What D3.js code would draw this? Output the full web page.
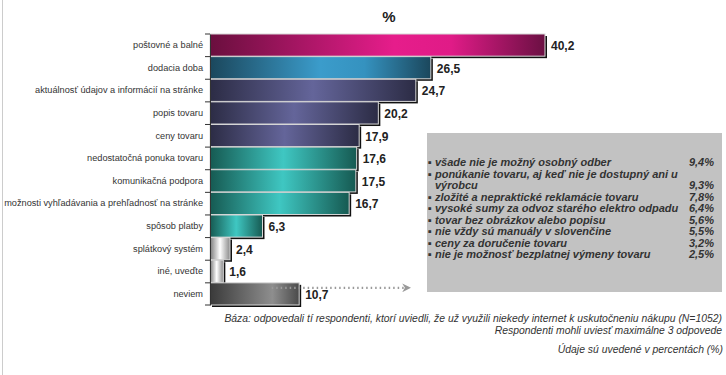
<!DOCTYPE html>
<html><head><meta charset="utf-8">
<script src="https://cdn.jsdelivr.net/npm/d3@7"></script>
<style>body{margin:0;background:#fff;}svg{display:block;font-family:"Liberation Sans",Arial,sans-serif;}</style>
</head><body><svg id="c" width="726" height="375"></svg>
<script>
const categories = ["poštovné a balné","dodacia doba","aktuálnosť údajov a informácií na stránke","popis tovaru","ceny tovaru","nedostatočná ponuka tovaru","komunikačná podpora","možnosti vyhľadávania a prehľadnosť na stránke","spôsob platby","splátkový systém","iné, uveďte","neviem"];
const values = [40.2,26.5,24.7,20.2,17.9,17.6,17.5,16.7,6.3,2.4,1.6,10.7];
const colorGroups = ["pink","blue","purple","purple","purple","teal","teal","teal","teal","light","light","dark"];
const otherItems = ["všade nie je možný osobný odber","ponúkanie tovaru, aj keď nie je dostupný ani u výrobcu","zložité a nepraktické reklamácie tovaru","vysoké sumy za odvoz starého elektro odpadu","tovar bez  obrázkov alebo popisu","nie vždy sú manuály v slovenčine","ceny za doručenie tovaru","nie je možnosť bezplatnej výmeny tovaru"];
const otherValues = ["9,4%","9,3%","7,8%","6,4%","5,6%","5,5%","3,2%","2,5%"];

const svg = d3.select("#c");
const gradStops = {
  pink:[["0%","#6a0f3e"],["55%","#e61d8b"],["72%","#e01b87"],["100%","#6b1043"]],
  blue:[["0%","#1b475c"],["50%","#3b9ccb"],["70%","#3592bf"],["100%","#1b475c"]],
  purple:[["0%","#2c2c45"],["50%","#64659a"],["100%","#2c2c45"]],
  teal:[["0%","#165a52"],["50%","#3fc7c2"],["100%","#165a52"]],
  light:[["0%","#7a7a7a"],["50%","#ffffff"],["100%","#8a8a8a"]],
  dark:[["0%","#3a3a3a"],["70%","#8e8e8e"],["100%","#4a4a4a"]]
};
const defs = svg.append("defs");
Object.entries(gradStops).forEach(([k,st])=>{
  const g = defs.append("linearGradient").attr("id","g-"+k).attr("x1","0").attr("x2","1").attr("y1","0").attr("y2","0");
  st.forEach(s=>g.append("stop").attr("offset",s[0]).attr("stop-color",s[1]));
});
const mk = defs.append("marker").attr("id","arr").attr("viewBox","0 0 10 10").attr("refX",2).attr("refY",5)
  .attr("markerWidth",4).attr("markerHeight",4).attr("orient","auto");
mk.append("path").attr("d","M0,0L10,5L0,10L3,5Z").attr("fill","#999");

svg.append("line").attr("x1",2.5).attr("x2",2.5).attr("y1",0).attr("y2",375).attr("stroke","#ccc");

const x = d3.scaleLinear().domain([0,40.2]).range([210,545]);
const y = d3.scaleBand().domain(categories).range([34,305]).paddingInner(0.02);

svg.append("text").attr("x",389).attr("y",22).attr("text-anchor","middle").attr("font-weight","bold").attr("font-size",15).attr("fill","#222").text("%");

// gray box
svg.append("rect").attr("x",427).attr("y",133).attr("width",295).attr("height",159).attr("fill","#c2c2c2");
const boxLines = [];
otherItems.forEach((t,i)=>{
  if(i===1){ boxLines.push({t:"▪ ponúkanie tovaru, aj keď nie je dostupný ani u",v:""}); boxLines.push({t:"výrobcu",v:otherValues[i],ind:true}); }
  else boxLines.push({t:"▪ "+t,v:otherValues[i]});
});
boxLines.forEach((d,i)=>{
  const yy = 166+i*11.5;
  svg.append("text").attr("x",d.ind?435:428).attr("y",yy).attr("font-size",11).attr("font-style","italic").attr("font-weight","bold").attr("fill","#333").text(d.t);
  if(d.v) svg.append("text").attr("x",714).attr("y",yy).attr("text-anchor","end").attr("font-size",11).attr("font-style","italic").attr("font-weight","bold").attr("fill","#333").text(d.v);
});

// bars
const g = svg.append("g");
categories.forEach((c,i)=>{
  const y0 = y(c), h = y.bandwidth(), x1 = x(values[i]);
  g.append("rect").attr("x",x(0)+2).attr("y",y0+2).attr("width",x1-x(0)).attr("height",h).attr("fill","#111");
  g.append("rect").attr("x",x(0)).attr("y",y0).attr("width",x1-x(0)).attr("height",h)
    .attr("fill","url(#g-"+colorGroups[i]+")").attr("stroke","#d8d8d8").attr("stroke-width",1);
  g.append("text").attr("x",x1+6).attr("y",y0+h/2+5).attr("font-size",12).attr("font-weight","bold").attr("fill","#222")
    .text(d3.format(".1f")(values[i]).replace(".",","));
});

// axis
const axis = d3.axisLeft(y).tickSize(0).tickPadding(7);
const ag = svg.append("g").attr("transform","translate(210,0)").call(axis);
ag.select(".domain").attr("stroke","#333");
ag.selectAll("text").attr("font-size",9.2).attr("fill","#333").attr("font-family","Liberation Sans, Arial, sans-serif");
const bounds = categories.map(c=>y(c)).concat([y(categories[categories.length-1])+y.bandwidth()]);
svg.append("g").selectAll("line").data(bounds).join("line").attr("x1",205).attr("x2",210).attr("y1",d=>d).attr("y2",d=>d).attr("stroke","#333");

// dotted arrow from neviem
const ny = y("neviem")+5;
svg.append("line").attr("x1",x(7.4)).attr("x2",404).attr("y1",ny).attr("y2",ny).attr("stroke","#999")
  .attr("stroke-width",2.2).attr("stroke-dasharray","1.5,3").attr("marker-end","url(#arr)");

// footnotes
const fn = [["Báza: odpovedali tí respondenti, ktorí  uviedli, že už využili niekedy internet k uskutočneniu nákupu (N=1052)",322,722],
            ["Respondenti mohli uviesť maximálne 3 odpovede",334,722],
            ["Údaje sú uvedené v percentách (%)",353,723]];
fn.forEach(f=>svg.append("text").attr("x",f[2]).attr("y",f[1]).attr("text-anchor","end").attr("font-size",10.4).attr("font-style","italic").attr("fill","#333").text(f[0]));
</script></body></html>
